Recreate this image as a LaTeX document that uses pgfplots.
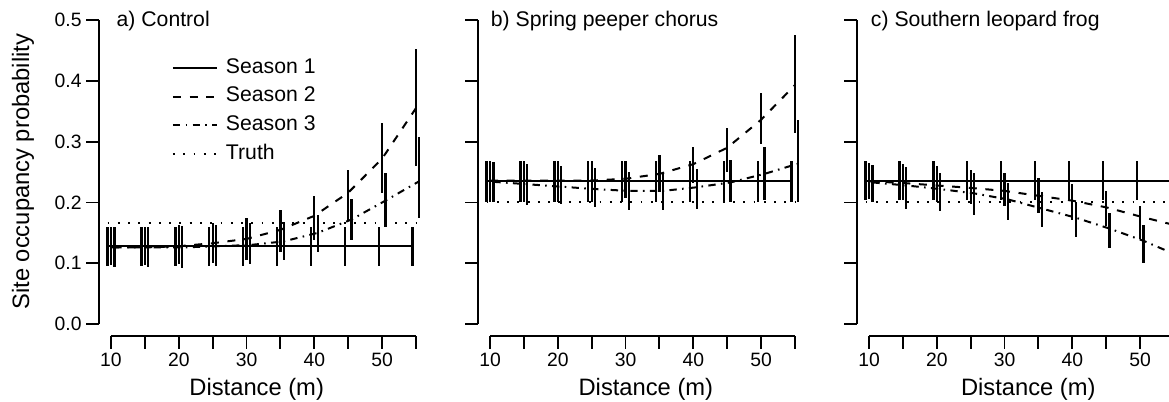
\documentclass[border=0pt]{standalone}
\usepackage{pgfplots}
\usepackage{pgfplotstable}
\pgfplotsset{compat=1.18}
\usepackage{fontspec}
\setmainfont{Liberation Sans}
\newcommand\tickfont{\fontsize{14.5}{17}\selectfont}
\newcommand\labfont{\fontsize{17.8}{21}\selectfont}
\newcommand\titfont{\fontsize{15.9}{19}\selectfont}

\tikzset{
  sone/.style={solid},
  stwo/.style={dash pattern=on 6pt off 6.5pt},
  sthree/.style={dash pattern=on 5.5pt off 4pt on 1.2pt off 4pt},
  struth/.style={dash pattern=on 1.4pt off 6.3pt},
}

\pgfplotsset{
  panel/.style={
    scale only axis, width=247pt, height=246.2pt,
    anchor=south west,
    xmin=8.2, xmax=56.8, ymin=-0.02, ymax=0.52,
    axis lines*=left, axis line style={draw=none},
    tick align=outside, major tick length=9.4pt,
    tick style={line width=1.4pt, black},
    xtick={10,15,20,25,30,35,40,45,50,55},
    xticklabels={10,,20,,30,,40,,50,},
    ytick={0,0.1,0.2,0.3,0.4,0.5},
    clip=false,
    tick label style={font=\tickfont},
    /pgf/number format/assume math mode=true,
    yticklabel style={/pgf/number format/.cd, fixed, fixed zerofill, precision=1},
  },
  ser/.style={mark=none, forget plot,
    error bars/.cd, y dir=both, y explicit, error mark=none,
    error bar style={solid, line width=1.7pt}},
}

% ---------- Panel a: Control ----------
\pgfplotstableread{
x y lo hi
9.5  0.128 0.096 0.160
14.5 0.128 0.096 0.160
19.5 0.128 0.096 0.160
24.5 0.128 0.096 0.160
29.5 0.128 0.096 0.160
34.5 0.128 0.096 0.160
39.5 0.128 0.096 0.160
44.5 0.128 0.096 0.160
49.5 0.128 0.096 0.160
54.5 0.128 0.096 0.160
}\aOne
\pgfplotstableread{
x y lo hi
10 0.126 0.097 0.160
15 0.126 0.097 0.160
20 0.128 0.098 0.163
25 0.133 0.101 0.166
30 0.140 0.105 0.174
35 0.155 0.119 0.187
40 0.178 0.138 0.211
45 0.216 0.171 0.253
50 0.272 0.215 0.330
55 0.355 0.260 0.452
}\aTwo
\pgfplotstableread{
x y lo hi
10.5 0.126 0.094 0.160
15.5 0.126 0.094 0.160
20.5 0.126 0.093 0.162
25.5 0.128 0.096 0.163
30.5 0.130 0.099 0.166
35.5 0.136 0.105 0.168
40.5 0.150 0.119 0.179
45.5 0.172 0.139 0.206
50.5 0.203 0.160 0.248
55.5 0.235 0.174 0.308
}\aThree
\pgfplotstableread{
x y
9.5 0.167
55.5 0.167
}\aTruth

% ---------- Panel b: Spring peeper chorus ----------
\pgfplotstableread{
x y lo hi
9.5  0.236 0.201 0.268
14.5 0.236 0.201 0.268
19.5 0.236 0.201 0.268
24.5 0.236 0.201 0.268
29.5 0.236 0.201 0.268
34.5 0.236 0.201 0.268
39.5 0.236 0.201 0.268
44.5 0.236 0.201 0.268
49.5 0.236 0.201 0.268
54.5 0.236 0.201 0.268
}\bOne
\pgfplotstableread{
x y lo hi
10 0.236 0.201 0.268
15 0.236 0.200 0.268
20 0.236 0.200 0.268
25 0.236 0.200 0.268
30 0.239 0.207 0.268
35 0.247 0.218 0.278
40 0.263 0.232 0.292
45 0.290 0.250 0.322
50 0.336 0.296 0.380
55 0.393 0.315 0.475
}\bTwo
\pgfplotstableread{
x y lo hi
10.5 0.234 0.200 0.267
15.5 0.230 0.196 0.264
20.5 0.226 0.197 0.260
25.5 0.222 0.193 0.256
30.5 0.219 0.188 0.250
35.5 0.219 0.187 0.250
40.5 0.225 0.190 0.255
45.5 0.233 0.200 0.270
50.5 0.247 0.204 0.292
55.5 0.264 0.201 0.336
}\bThree
\pgfplotstableread{
x y
9.5 0.200
55.5 0.200
}\bTruth

% ---------- Panel c: Southern leopard frog ----------
\pgfplotstableread{
x y lo hi
9.5  0.236 0.204 0.268
14.5 0.236 0.204 0.268
19.5 0.236 0.204 0.268
24.5 0.236 0.204 0.268
29.5 0.236 0.204 0.268
34.5 0.236 0.204 0.268
39.5 0.236 0.204 0.268
44.5 0.236 0.204 0.268
49.5 0.236 0.204 0.268
54.5 0.236 0.204 0.268
}\cOne
\pgfplotstableread{
x y lo hi
10 0.235 0.205 0.265
15 0.232 0.204 0.263
20 0.228 0.200 0.260
25 0.224 0.197 0.254
30 0.219 0.195 0.249
35 0.211 0.182 0.240
40 0.203 0.171 0.231
45 0.192 0.161 0.219
50 0.177 0.140 0.195
55 0.163 0.125 0.185
}\cTwo
\pgfplotstableread{
x y lo hi
10.5 0.233 0.200 0.262
15.5 0.228 0.190 0.259
20.5 0.222 0.186 0.249
25.5 0.215 0.179 0.248
30.5 0.205 0.171 0.232
35.5 0.190 0.159 0.218
40.5 0.175 0.144 0.201
45.5 0.157 0.125 0.182
50.5 0.137 0.100 0.163
55.5 0.113 0.075 0.140
}\cThree
\pgfplotstableread{
x y
9.5 0.200
55.5 0.200
}\cTruth

\newcommand\errplot[2]{%
  \addplot[black, line width=1.5pt, #1, ser] table[x=x, y=y,
     y error plus expr=\thisrow{hi}-\thisrow{y},
     y error minus expr=\thisrow{y}-\thisrow{lo}] {#2};}

\begin{document}
\begin{tikzpicture}
\useasboundingbox (0,0) rectangle (876.75pt,300.75pt);
\clip (0,0) rectangle (876.75pt,300.75pt);

% Panel a
\begin{axis}[panel, at={(74.1pt,48.6pt)},
  legend style={at={(axis cs:19.0,0.437)}, anchor=north west, draw=none, fill=none,
    inner sep=0pt, outer sep=0pt, font=\titfont, row sep=7pt, column sep=3pt,
    nodes={inner ysep=0pt, inner xsep=3pt, text height=11pt, text depth=3.5pt}},
  legend cell align=left,
  legend image code/.code={\draw[#1, line width=1.5pt] (0pt,0pt) -- (33pt,0pt);},
]
\draw[line width=1.5pt] (axis cs:10,-0.02) -- (axis cs:55,-0.02);
\draw[line width=1.5pt] (axis cs:8.2,0) -- (axis cs:8.2,0.5);
\errplot{sone}{\aOne}
\errplot{stwo}{\aTwo}
\errplot{sthree}{\aThree}
\addplot[black, line width=1.5pt, struth, mark=none, forget plot] table[x=x,y=y] {\aTruth};
\addlegendimage{black, sone}\addlegendentry{Season 1}
\addlegendimage{black, stwo}\addlegendentry{Season 2}
\addlegendimage{black, sthree}\addlegendentry{Season 3}
\addlegendimage{black, struth}\addlegendentry{Truth}
\node[anchor=base west, inner sep=0pt, font=\titfont] at (axis cs:10.8,0.490) {a) Control};
\node[anchor=base, inner sep=0pt, font=\labfont] at (axis cs:31.5,-0.117) {Distance (m)};
\end{axis}

% Panel b
\begin{axis}[panel, at={(358.35pt,48.6pt)}, yticklabels={}]
\draw[line width=1.5pt] (axis cs:10,-0.02) -- (axis cs:55,-0.02);
\draw[line width=1.5pt] (axis cs:8.2,0) -- (axis cs:8.2,0.5);
\errplot{sone}{\bOne}
\errplot{stwo}{\bTwo}
\errplot{sthree}{\bThree}
\addplot[black, line width=1.5pt, struth, mark=none, forget plot] table[x=x,y=y] {\bTruth};
\node[anchor=base west, inner sep=0pt, font=\titfont] at (axis cs:10.1,0.490) {b) Spring peeper chorus};
\node[anchor=base, inner sep=0pt, font=\labfont] at (axis cs:33.0,-0.117) {Distance (m)};
\end{axis}

% Panel c
\begin{axis}[panel, at={(642.6pt,48.6pt)}, yticklabels={}]
\draw[line width=1.5pt] (axis cs:10,-0.02) -- (axis cs:55,-0.02);
\draw[line width=1.5pt] (axis cs:8.2,0) -- (axis cs:8.2,0.5);
\errplot{sone}{\cOne}
\errplot{stwo}{\cTwo}
\errplot{sthree}{\cThree}
\addplot[black, line width=1.5pt, struth, mark=none, forget plot] table[x=x,y=y] {\cTruth};
\node[anchor=base west, inner sep=0pt, font=\titfont] at (axis cs:10.25,0.490) {c) Southern leopard frog};
\node[anchor=base, inner sep=0pt, font=\labfont] at (axis cs:33.5,-0.117) {Distance (m)};
\end{axis}

\node[rotate=90, anchor=base, inner sep=0pt, font=\labfont] at (21.75pt,172pt) {Site occupancy probability};
\end{tikzpicture}
\end{document}
